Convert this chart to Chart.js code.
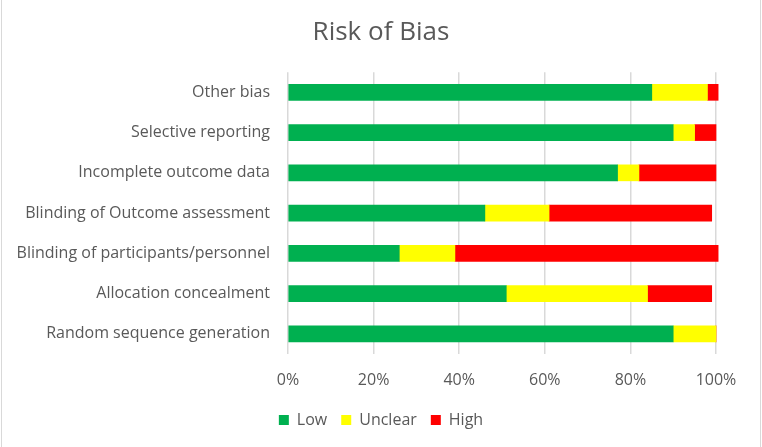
<!DOCTYPE html>
<html>
<head>
<meta charset="utf-8">
<title>Risk of Bias</title>
<script src="https://cdn.jsdelivr.net/npm/chart.js@4.4.1/dist/chart.umd.min.js"></script>
<style>
  html, body { margin: 0; padding: 0; background: #fff; }
  #wrap { position: relative; width: 762px; height: 447px; }
  #wrap:before, #wrap:after { content: ""; position: absolute; top: 0; bottom: 0; width: 1px; background: #d9d9d9; }
  #wrap:before { left: 1px; }
  #wrap:after { right: 1px; }
</style>
</head>
<body>
<div id="wrap"><canvas id="myChart" width="762" height="447"></canvas></div>
<script>
// domains, top to bottom as in the picture
let domains = ["Other bias", "Selective reporting", "Incomplete outcome data",
  "Blinding of Outcome assessment", "Blinding of participants/personnel",
  "Allocation concealment", "Random sequence generation"];
// percent of studies per judgement
let lowRisk = [85, 90, 77, 46, 26, 51, 90];
let unclearRisk = [13, 5, 5, 15, 13, 33, 10];
let highRisk = [2.5, 5, 18, 38, 61.5, 15, 0];
let percentTicks = [0, 20, 40, 60, 80, 100];

let textColor = "#595959";
Chart.defaults.font.family = "'Open Sans', sans-serif";
Chart.defaults.color = textColor;

new Chart("myChart", {
  type: "bar",
  data: {
    labels: domains,
    datasets: [
      {label: "Low", data: lowRisk, backgroundColor: "#00B050", barThickness: 16, clip: false},
      {label: "Unclear", data: unclearRisk, backgroundColor: "#FFFF00", barThickness: 16, clip: false},
      {label: "High", data: highRisk, backgroundColor: "#FF0000", barThickness: 16, clip: false}
    ]
  },
  options: {
    indexAxis: "y",
    responsive: false,
    animation: false,
    layout: {padding: {left: 0, right: 0, top: 0, bottom: 9}},
    plugins: {
      title: {
        display: true,
        text: "Risk of Bias",
        color: textColor,
        font: {size: 26, weight: "normal"},
        padding: {top: 17, bottom: 24}
      },
      legend: {
        position: "bottom",
        labels: {boxWidth: 10, boxHeight: 10, padding: 14, font: {size: 16}, color: textColor}
      },
      tooltip: {enabled: false}
    },
    scales: {
      x: {
        stacked: true,
        min: 0,
        max: 100,
        afterBuildTicks: function (scale) {
          scale.ticks = percentTicks.map(function (v) { return {value: v}; });
        },
        afterFit: function (scale) {
          scale.paddingRight = 46;
          scale.height = 44;
        },
        ticks: {
          callback: function (v) { return v + "%"; },
          font: {size: 16},
          color: textColor,
          padding: 17,
          maxRotation: 0
        },
        grid: {color: "#d9d9d9", lineWidth: 1.5, drawTicks: false},
        border: {display: false}
      },
      y: {
        stacked: true,
        afterFit: function (scale) { scale.width = 288; },
        ticks: {font: {size: 16}, color: textColor, padding: 10},
        grid: {display: false},
        border: {display: false}
      }
    }
  }
});
</script>
</body>
</html>
